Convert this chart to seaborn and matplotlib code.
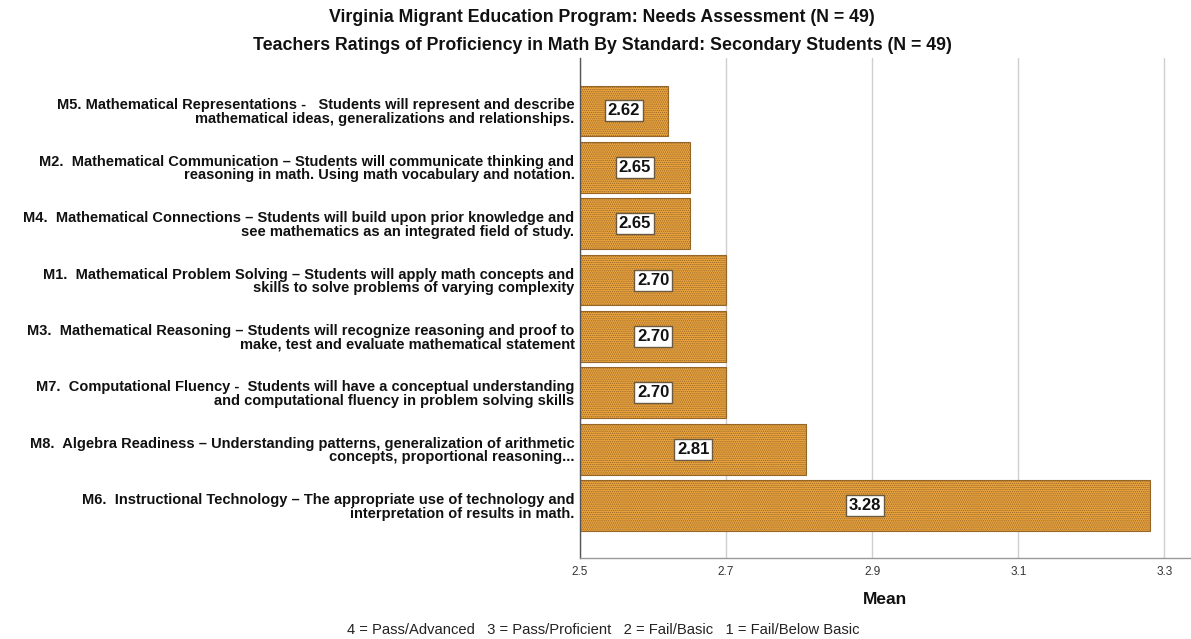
import matplotlib
matplotlib.use("Agg")
import matplotlib.pyplot as plt
import seaborn as sns
import pandas as pd

# Standards, ordered as listed in the report
standards = [
    "M5. Mathematical Representations -   Students will represent and describe\nmathematical ideas, generalizations and relationships.",
    "M2.  Mathematical Communication \u2013 Students will communicate thinking and\nreasoning in math. Using math vocabulary and notation.",
    "M4.  Mathematical Connections \u2013 Students will build upon prior knowledge and\nsee mathematics as an integrated field of study.",
    "M1.  Mathematical Problem Solving \u2013 Students will apply math concepts and\nskills to solve problems of varying complexity",
    "M3.  Mathematical Reasoning \u2013 Students will recognize reasoning and proof to\nmake, test and evaluate mathematical statement",
    "M7.  Computational Fluency -  Students will have a conceptual understanding\nand computational fluency in problem solving skills",
    "M8.  Algebra Readiness \u2013 Understanding patterns, generalization of arithmetic\nconcepts, proportional reasoning...",
    "M6.  Instructional Technology \u2013 The appropriate use of technology and\ninterpretation of results in math.",
]
mean_ratings = [2.62, 2.65, 2.65, 2.70, 2.70, 2.70, 2.81, 3.28]
x_ticks = [2.5, 2.7, 2.9, 3.1, 3.3]

title_line1 = "Virginia Migrant Education Program: Needs Assessment (N = 49)"
title_line2 = "Teachers Ratings of Proficiency in Math By Standard: Secondary Students (N = 49)"
scale_note = "4 = Pass/Advanced   3 = Pass/Proficient   2 = Fail/Basic   1 = Fail/Below Basic"

sns.set_style("white")
plt.rcParams["font.family"] = ["Liberation Sans", "DejaVu Sans"]
plt.rcParams["hatch.linewidth"] = 0.65

df = pd.DataFrame({"standard": standards, "mean": mean_ratings})

fig = plt.figure(figsize=(11.91, 6.39), dpi=100)
ax = fig.add_axes([580 / 1191, 1 - 558 / 639, 610 / 1191, 500 / 639])

ax.grid(axis="x", color="#cfcfcf", linewidth=1.0)
ax.set_axisbelow(True)

sns.barplot(data=df, x="mean", y="standard", order=standards, orient="h",
            color="#ECA53F", width=0.9, saturation=1.0, ax=ax)

x0 = x_ticks[0]
for patch, val in zip(ax.patches, mean_ratings):
    # bars start at the left edge of the value axis
    patch.set_x(x0)
    patch.set_width(val - x0)
    patch.set_hatch("........")
    patch.set_edgecolor("#966628")
    patch.set_linewidth(0.8)
    cy = patch.get_y() + patch.get_height() / 2
    ax.text((x0 + val) / 2, cy, f"{val:.2f}", ha="center", va="center",
            fontsize=12, fontweight="bold", color="#111111",
            bbox=dict(boxstyle="square,pad=0.18", facecolor="white",
                      edgecolor="#6b5a40", linewidth=1.0))

ax.set_xlim(2.5, 3.335)
ax.set_ylim(7.93, -0.94)
ax.set_xticks(x_ticks)
ax.set_xticklabels([f"{t:.1f}" for t in x_ticks], fontsize=8.5, color="#333333")
ax.tick_params(axis="both", length=0)
ax.tick_params(axis="x", pad=6)
ax.set_yticks(range(len(standards)))
ax.set_yticklabels(standards, fontsize=10.5, fontweight="bold", color="#111111",
                   linespacing=0.95)
ax.tick_params(axis="y", pad=4)

ax.set_ylabel("")
ax.set_xlabel("Mean", fontsize=12.5, fontweight="bold", labelpad=10, color="#111111")

for side in ("top", "right"):
    ax.spines[side].set_visible(False)
ax.spines["left"].set_color("#555555")
ax.spines["left"].set_linewidth(1.0)
ax.spines["bottom"].set_color("#999999")
ax.spines["bottom"].set_linewidth(1.0)

fig.text(602 / 1191, 1 - 17 / 639, title_line1, ha="center", va="center",
         fontsize=12.75, fontweight="bold", color="#111111")
fig.text(602 / 1191, 1 - 46 / 639, title_line2, ha="center", va="center",
         fontsize=12.75, fontweight="bold", color="#111111")
fig.text(603 / 1191, 1 - 630 / 639, scale_note, ha="center", va="center",
         fontsize=10.6, color="#222222")

fig.savefig("out.png", dpi=100)
